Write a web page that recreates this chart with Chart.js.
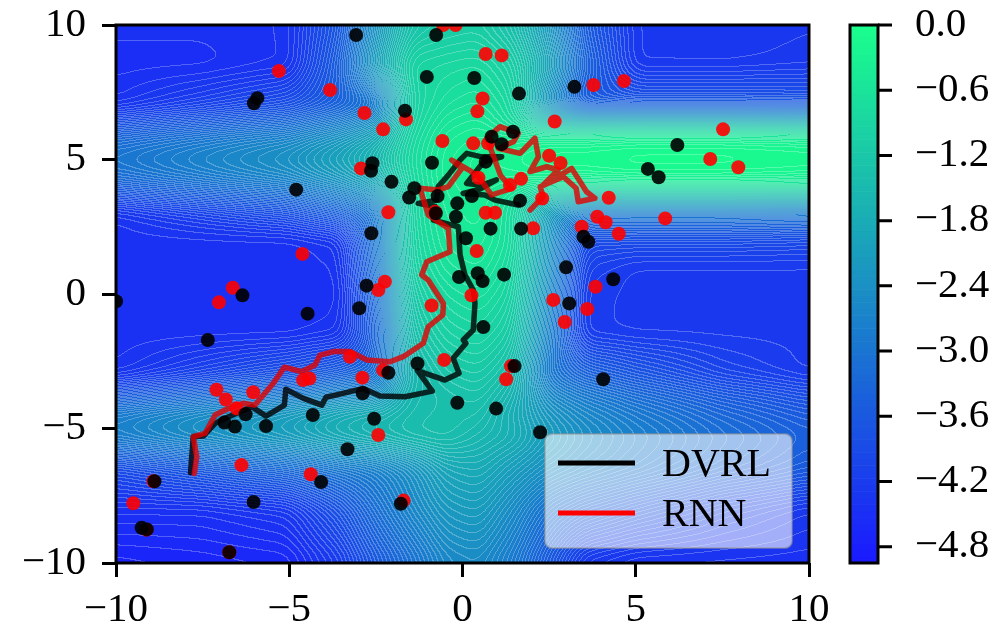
<!DOCTYPE html>
<html><head><meta charset="utf-8">
<script src="https://cdn.jsdelivr.net/npm/chart.js@4/dist/chart.umd.min.js"></script>
<style>html,body{margin:0;padding:0;background:#fff}#wrap{width:998px;height:628px}</style>
</head><body><div id="wrap"><canvas id="c" width="998" height="628"></canvas></div>
<script>
// ---- ticks ----
const X_TICKS = [-10, -5, 0, 5, 10];
const Y_TICKS = [-10, -5, 0, 5, 10];
const CB_TICKS = [0, -0.6, -1.2, -1.8, -2.4, -3.0, -3.6, -4.2, -4.8];
const CB_MIN = -4.95, CB_MAX = 0;
const LEVEL_STEP = 0.06;

// ---- background field (values on a coarse grid) ----
const GRID_X = [-10, -7.5, -5, -3.5, -2.5, -1.5, -0.5, 0.5, 1.5, 2.5, 3.5, 5, 7.5, 10];
const GRID_Y = [10, 8.5, 7, 6.3, 5.7, 5, 4.3, 3.6, 3, 2, 1, 0, -1.5, -3, -3.8, -4.5, -5.3, -6.5, -8, -10];
const FIELD = [
  [-4.45,-4.45,-4.4,-3.6,-2.3,-1.3,-1.15,-1.1,-1.4,-2.2,-3.5,-4.3,-4.35,-4.3],
  [-4.5,-4.5,-4.4,-3.4,-2.0,-0.9,-0.85,-0.8,-1.05,-1.9,-3.3,-4.3,-4.3,-4.25],
  [-4.4,-4.1,-3.8,-3.4,-3.0,-1.0,-0.7,-0.6,-0.85,-2.4,-3.6,-3.6,-3.6,-3.65],
  [-3.7,-3.4,-3.1,-2.7,-2.3,-0.95,-0.55,-0.45,-0.8,-1.3,-1.3,-1.25,-1.25,-1.3],
  [-3.15,-2.85,-2.55,-2.15,-1.75,-0.85,-0.45,-0.35,-0.3,-0.2,-0.2,-0.15,-0.15,-0.2],
  [-2.9,-2.6,-2.3,-1.9,-1.5,-0.8,-0.4,-0.3,-0.2,-0.1,-0.1,-0.05,-0.05,-0.1],
  [-3.15,-2.85,-2.55,-2.15,-1.75,-0.85,-0.4,-0.3,-0.3,-0.2,-0.2,-0.15,-0.15,-0.2],
  [-3.8,-3.5,-3.2,-2.8,-2.4,-0.9,-0.45,-0.35,-0.7,-1.4,-1.5,-1.45,-1.45,-1.5],
  [-4.4,-4.1,-3.8,-3.4,-3.0,-0.9,-0.5,-0.4,-0.75,-2.2,-2.9,-2.9,-2.9,-2.95],
  [-4.45,-4.45,-4.45,-4.33,-2.95,-0.95,-0.55,-0.45,-0.75,-2.25,-3.9,-3.9,-3.9,-3.95],
  [-4.45,-4.45,-4.45,-4.4,-3.05,-1.0,-0.65,-0.55,-0.85,-2.35,-4.1,-4.25,-4.25,-4.25],
  [-4.45,-4.45,-4.45,-4.45,-3.2,-1.15,-0.8,-0.7,-0.95,-2.5,-4.2,-4.25,-4.25,-4.25],
  [-4.45,-4.45,-4.45,-4.35,-3.4,-1.35,-1.0,-0.9,-1.15,-2.7,-4.2,-4.25,-4.25,-4.25],
  [-4.4,-4.05,-3.7,-3.4,-3.2,-1.6,-1.25,-1.15,-1.45,-2.95,-3.34,-3.64,-4.04,-4.25],
  [-3.5,-3.15,-2.8,-2.5,-2.35,-1.5,-1.4,-1.3,-1.65,-2.53,-2.83,-3.13,-3.53,-3.83],
  [-2.75,-2.4,-2.05,-1.75,-1.6,-1.45,-1.38,-1.4,-1.8,-2.25,-2.55,-2.85,-3.25,-3.55],
  [-2.7,-2.35,-2.0,-1.7,-1.55,-1.4,-1.35,-1.55,-1.7,-2.1,-2.4,-2.7,-3.1,-3.4],
  [-3.9,-3.55,-3.2,-2.9,-2.75,-2.4,-1.9,-1.8,-2.1,-2.4,-2.6,-2.85,-3.25,-3.55],
  [-4.45,-4.45,-4.3,-3.7,-3.1,-2.6,-2.2,-2.1,-2.5,-3.04,-3.34,-3.64,-4.04,-4.3],
  [-4.75,-4.7,-4.65,-4.2,-3.6,-3.1,-2.6,-2.5,-2.9,-3.6,-4.3,-4.45,-4.45,-4.45]
];
const SMOOTH_PX = 9; // rendering smoothing radius for the coarse field

// ---- trajectories ----
const DVRL_PATH = [[-7.85,-6.64],[-7.77,-5.30],[-7.48,-5.28],[-7.14,-4.81],[-6.85,-4.62],[-6.42,-4.38],[-6.08,-4.19],[-5.67,-4.54],[-5.14,-4.13],[-5.10,-3.54],[-4.59,-3.88],[-4.06,-4.13],[-3.94,-3.84],[-3.54,-3.72],[-2.86,-3.51],[-2.38,-3.79],[-1.66,-3.82],[-0.87,-3.61],[-1.30,-2.85],[-0.51,-3.20],[-0.10,-2.95],[-0.27,-2.39],[0.10,-1.83],[0.02,-1.71],[0.31,-1.34],[0.36,-0.35],[0.31,0.15],[0.07,0.71],[-0.07,1.45],[-0.12,2.50],[-0.51,2.63],[-0.84,2.75],[-0.79,3.25],[-1.28,3.37],[-0.75,3.49],[-0.70,3.99],[-0.41,4.42],[-0.07,4.98],[0.12,5.23],[0.55,5.10],[1.13,5.10],[0.60,4.90],[0.12,4.11],[0.55,4.05],[0.98,4.24],[0.50,3.90],[0.02,3.74],[0.65,3.68],[0.94,3.49],[1.61,3.31]];
const RNN_PATH = [[-7.74,-6.67],[-7.67,-6.05],[-7.77,-5.30],[-7.43,-5.18],[-7.14,-4.50],[-6.85,-4.31],[-6.33,-4.06],[-5.99,-4.13],[-5.46,-3.32],[-5.14,-2.72],[-4.64,-2.89],[-4.26,-2.64],[-4.11,-2.27],[-3.73,-2.14],[-3.25,-2.14],[-2.77,-2.45],[-2.09,-2.52],[-1.71,-2.33],[-1.13,-1.83],[-0.99,-1.22],[-0.57,-0.78],[-0.55,-0.35],[-0.99,0.52],[-1.18,0.71],[-1.03,1.20],[-0.36,1.57],[-0.41,2.44],[-0.99,2.94],[-1.23,3.93],[-0.70,3.87],[-0.41,3.99],[-0.02,4.67],[-0.31,4.98],[0.20,4.60],[0.46,4.36],[0.84,3.68],[1.42,3.93],[1.10,4.40],[0.70,5.79],[1.08,6.22],[1.61,5.97],[1.47,5.66],[1.03,5.42],[1.66,5.23],[2.09,5.79],[2.19,5.10],[1.95,4.55],[2.43,4.73],[2.76,4.61],[2.33,4.05],[3.15,4.67],[3.58,3.80],[3.82,3.56],[3.34,3.43],[3.28,3.93],[2.91,4.36],[2.24,3.99],[2.33,3.62],[1.95,3.12]];

// ---- scattered samples ----
const DVRL_POINTS = [[-5.92,7.28],[-6.02,7.09],[-4.80,3.88],[-6.35,-0.05],[-10.0,-0.27],[-4.47,-0.73],[-7.35,-1.71],[-6.26,-4.47],[-6.87,-4.78],[-6.57,-4.93],[-5.67,-4.91],[-4.32,-4.50],[-8.89,-6.96],[-9.26,-8.69],[-9.11,-8.75],[-6.03,-7.73],[-4.08,-6.99],[-6.73,-9.60],[-3.07,9.63],[-0.76,9.63],[-1.03,8.07],[0.34,8.03],[1.63,7.45],[3.23,7.70],[-1.66,6.81],[0.84,5.85],[1.46,6.03],[1.13,5.57],[-2.60,4.86],[-2.64,4.58],[-0.88,4.88],[0.67,4.92],[-2.05,4.17],[-1.39,3.93],[-1.54,3.59],[-0.72,3.64],[0.27,3.64],[1.66,3.47],[-0.15,3.37],[-0.77,3.00],[-0.19,2.87],[0.81,2.43],[1.69,2.43],[-2.63,2.26],[0.10,2.07],[2.99,0.99],[1.20,0.72],[-0.10,0.63],[0.44,0.77],[0.58,0.48],[-2.77,0.31],[3.08,-0.35],[6.20,5.54],[5.35,4.65],[5.66,4.34],[3.49,2.13],[3.63,1.94],[4.35,0.55],[0.60,-1.23],[1.50,-2.68],[4.06,-3.17],[-0.15,-4.04],[0.97,-4.26],[2.24,-5.14],[-2.98,-0.53],[-1.30,-2.58],[-2.14,-2.93],[-2.88,-3.69],[-2.55,-4.64],[-3.32,-5.77],[-1.78,-7.80]];
const RNN_POINTS = [[-5.30,8.29],[-3.82,7.58],[-4.62,1.49],[-6.63,0.23],[-7.03,-0.31],[-7.10,-3.56],[-6.83,-3.92],[-6.04,-3.65],[-6.52,-4.25],[-4.60,-3.20],[-4.42,-3.14],[-6.38,-6.36],[-8.92,-6.96],[-9.50,-7.78],[-9.12,-8.76],[-4.38,-6.70],[-6.73,-9.60],[-0.56,10.0],[-0.20,10.0],[0.67,8.92],[1.13,8.87],[0.58,7.27],[0.43,6.79],[-2.83,6.73],[-1.63,6.49],[-2.29,6.12],[2.66,6.41],[-0.58,5.69],[0.31,5.60],[0.74,5.60],[-2.93,4.67],[2.50,5.14],[2.83,4.87],[0.46,4.32],[1.69,4.28],[1.37,4.05],[2.30,3.55],[-2.14,3.04],[-0.79,3.06],[0.67,3.02],[0.94,3.02],[2.04,2.44],[0.41,1.60],[-2.24,0.46],[-2.43,0.15],[0.26,-0.05],[2.62,-0.22],[2.95,-1.04],[3.78,7.77],[4.66,7.92],[7.52,6.12],[7.15,5.02],[7.96,4.71],[4.22,3.58],[3.89,2.87],[4.13,2.67],[5.85,2.81],[4.51,2.24],[3.44,2.50],[3.84,0.27],[3.60,-0.56],[-0.53,-2.45],[1.40,-2.68],[1.26,-3.17],[-0.89,-0.43],[-3.25,-2.33],[-2.29,-2.83],[-2.89,-3.11],[-2.43,-5.24],[-1.70,-7.68]];

// ---- helpers ----
const FONT = 'Liberation Serif';
const minus = v => (v < 0 ? '\u2212' : '') + Math.abs(v);
const toXY = a => a.map(p => ({x: p[0], y: p[1]}));
function winter(v) { // matplotlib 'winter' drawn with alpha 0.9 on white
  let t = (v - CB_MIN) / (CB_MAX - CB_MIN); t = Math.max(0, Math.min(1, t));
  return [25.5, 25.5 + 229.5 * t, 25.5 + 229.5 * (1 - 0.5 * t)];
}
function levelOf(v) { return Math.floor((v - CB_MIN) / LEVEL_STEP); }
function levelColor(l) { return winter(CB_MIN + (l + 0.5) * LEVEL_STEP); }
function findIdx(arr, v, desc) {
  const n = arr.length;
  for (let k = 0; k < n - 1; k++) {
    const a = arr[k], b = arr[k + 1];
    if (desc ? (v <= a && v >= b) : (v >= a && v <= b)) return k;
  }
  if (desc) return v > arr[0] ? 0 : n - 2;
  return v < arr[0] ? 0 : n - 2;
}
function noPad(s) { s.paddingTop = 0; s.paddingBottom = 0; s.paddingLeft = 0; s.paddingRight = 0; }
function boxBlur(src, W, H, r) {
  const tmp = new Float64Array(W * H), out = new Float64Array(W * H), n = 2 * r + 1;
  for (let j = 0; j < H; j++) {
    let s = 0; const row = j * W;
    for (let k = -r; k <= r; k++) s += src[row + Math.min(W - 1, Math.max(0, k))];
    for (let i = 0; i < W; i++) {
      tmp[row + i] = s / n;
      s += src[row + Math.min(W - 1, i + r + 1)] - src[row + Math.max(0, i - r)];
    }
  }
  for (let i = 0; i < W; i++) {
    let s = 0;
    for (let k = -r; k <= r; k++) s += tmp[Math.min(H - 1, Math.max(0, k)) * W + i];
    for (let j = 0; j < H; j++) {
      out[j * W + i] = s / n;
      s += tmp[Math.min(H - 1, j + r + 1) * W + i] - tmp[Math.max(0, j - r) * W + i];
    }
  }
  return out;
}

const fieldPlugin = {
  id: 'field',
  beforeDatasetsDraw(chart) {
    const {ctx, chartArea: a, scales: {x, y}} = chart;
    const W = Math.round(a.right - a.left), H = Math.round(a.bottom - a.top);
    const xi = new Int32Array(W), xf = new Float64Array(W);
    for (let i = 0; i < W; i++) {
      const v = x.getValueForPixel(a.left + i + 0.5);
      const k = findIdx(GRID_X, v, false);
      xi[i] = k; xf[i] = Math.max(0, Math.min(1, (v - GRID_X[k]) / (GRID_X[k + 1] - GRID_X[k])));
    }
    let val = new Float64Array(W * H);
    for (let j = 0; j < H; j++) {
      const v = y.getValueForPixel(a.top + j + 0.5);
      const k = findIdx(GRID_Y, v, true);
      const f = Math.max(0, Math.min(1, (v - GRID_Y[k]) / (GRID_Y[k + 1] - GRID_Y[k])));
      const r0 = FIELD[k], r1 = FIELD[k + 1];
      for (let i = 0; i < W; i++) {
        const c = xi[i], g = xf[i];
        const top = r0[c] + (r0[c + 1] - r0[c]) * g;
        const bot = r1[c] + (r1[c + 1] - r1[c]) * g;
        val[j * W + i] = top + (bot - top) * f;
      }
    }
    val = boxBlur(boxBlur(val, W, H, SMOOTH_PX), W, H, SMOOTH_PX);
    const lev = new Int32Array(W * H);
    for (let p = 0; p < W * H; p++) lev[p] = levelOf(val[p]);
    const off = document.createElement('canvas'); off.width = W; off.height = H;
    const octx = off.getContext('2d');
    const img = octx.createImageData(W, H); const d = img.data;
    for (let j = 0; j < H; j++) {
      for (let i = 0; i < W; i++) {
        const p = j * W + i, l = lev[p];
        let [r, g, b] = levelColor(l);
        const edge = (i < W - 1 && lev[p + 1] !== l) || (j < H - 1 && lev[p + W] !== l);
        if (edge) { const al = 0.25; r += (255 - r) * al; g += (255 - g) * al; b += (255 - b) * al; }
        d[p * 4] = r; d[p * 4 + 1] = g; d[p * 4 + 2] = b; d[p * 4 + 3] = 255;
      }
    }
    octx.putImageData(img, 0, 0);
    ctx.drawImage(off, a.left, a.top);
  }
};

const overlayPlugin = {
  id: 'overlay',
  afterDraw(chart) {
    const {ctx, chartArea: a} = chart;
    const cb = chart.scales.cb;
    ctx.save();
    ctx.strokeStyle = '#000'; ctx.lineWidth = 3;
    ctx.strokeRect(a.left, a.top, a.right - a.left, a.bottom - a.top);
    const x0 = a.right + 41, x1 = a.right + 69;
    const nLev = Math.ceil((CB_MAX - CB_MIN) / LEVEL_STEP);
    for (let l = 0; l < nLev; l++) {
      const v0 = CB_MIN + l * LEVEL_STEP, v1 = Math.min(CB_MAX, v0 + LEVEL_STEP);
      const p0 = cb.getPixelForValue(v0), p1 = cb.getPixelForValue(v1);
      const [r, g, b] = levelColor(l);
      ctx.fillStyle = `rgb(${r},${g},${b})`;
      ctx.fillRect(x0, p1, x1 - x0, p0 - p1 + 0.6);
    }
    ctx.strokeRect(x0, cb.top, x1 - x0, cb.bottom - cb.top);
    ctx.beginPath();
    for (const t of CB_TICKS) { const p = cb.getPixelForValue(t); ctx.moveTo(x1, p); ctx.lineTo(x1 + 14, p); }
    ctx.stroke();
    const bx = a.right - 264, by = a.bottom - 129, bw = 247, bh = 114;
    ctx.beginPath();
    ctx.roundRect(bx, by, bw, bh, 7);
    ctx.fillStyle = 'rgba(255,255,255,0.6)'; ctx.fill();
    ctx.lineWidth = 2; ctx.strokeStyle = 'rgba(150,150,150,0.5)'; ctx.stroke();
    const items = [chart.data.datasets[3], chart.data.datasets[2]];
    items.forEach((ds, k) => {
      const yy = by + 29 + k * 50;
      ctx.beginPath(); ctx.moveTo(bx + 13, yy); ctx.lineTo(bx + 90, yy);
      ctx.lineWidth = 5; ctx.strokeStyle = ds.legendColor; ctx.lineCap = 'butt'; ctx.stroke();
      ctx.fillStyle = '#000'; ctx.font = `40px "${FONT}"`; ctx.textBaseline = 'middle'; ctx.textAlign = 'left';
      ctx.fillText(ds.label, bx + 117, yy + 2);
    });
    ctx.restore();
  }
};

const tickFont = {family: FONT, size: 41};
new Chart(document.getElementById('c'), {
  type: 'scatter',
  data: {
    datasets: [
      {label: 'DVRL samples', data: toXY(DVRL_POINTS), backgroundColor: 'rgba(0,0,0,0.9)', pointRadius: 7, pointBorderWidth: 0, borderWidth: 0, order: 0, clip: 0},
      {label: 'RNN samples', data: toXY(RNN_POINTS), backgroundColor: 'rgba(255,0,0,0.9)', pointRadius: 7, pointBorderWidth: 0, borderWidth: 0, order: 1, clip: 0},
      {type: 'line', label: 'RNN', legendColor: '#ff0000', data: toXY(RNN_PATH), borderColor: 'rgba(225,0,0,0.8)', borderWidth: 5.5, pointRadius: 0, fill: false, tension: 0, order: 2, clip: 0, borderJoinStyle: 'round', borderCapStyle: 'round'},
      {type: 'line', label: 'DVRL', legendColor: '#000000', data: toXY(DVRL_PATH), borderColor: 'rgba(0,0,0,0.8)', borderWidth: 5.5, pointRadius: 0, fill: false, tension: 0, order: 3, clip: 0, borderJoinStyle: 'round', borderCapStyle: 'round'}
    ]
  },
  options: {
    responsive: false, animation: false, devicePixelRatio: 1,
    layout: {padding: {top: 25, left: 0, right: 0, bottom: 0}},
    plugins: {legend: {display: false}, tooltip: {enabled: false}},
    scales: {
      x: {
        type: 'linear', min: -10, max: 10,
        afterBuildTicks: s => { s.ticks = X_TICKS.map(v => ({value: v})); },
        afterFit: s => { s.height = 65; noPad(s); },
        grid: {drawOnChartArea: false, drawTicks: true, tickLength: 14, lineWidth: 3, color: '#000'},
        border: {display: false},
        ticks: {font: tickFont, color: '#000', padding: 9, maxRotation: 0, callback: v => minus(v)}
      },
      y: {
        type: 'linear', min: -10, max: 10,
        afterBuildTicks: s => { s.ticks = Y_TICKS.map(v => ({value: v})); },
        afterFit: s => { s.width = 116; noPad(s); },
        grid: {drawOnChartArea: false, drawTicks: true, tickLength: 14, lineWidth: 3, color: '#000'},
        border: {display: false},
        ticks: {font: tickFont, color: '#000', padding: 16, callback: v => minus(v)}
      },
      cb: {
        type: 'linear', position: 'right', min: CB_MIN, max: CB_MAX,
        afterBuildTicks: s => { s.ticks = CB_TICKS.map(v => ({value: v})); },
        afterFit: s => { s.width = 189; noPad(s); },
        grid: {display: false, drawTicks: true, tickLength: 100, drawOnChartArea: false},
        border: {display: false},
        ticks: {font: tickFont, color: '#000', padding: 6, callback: v => (v < 0 ? '\u2212' : '') + Math.abs(v).toFixed(1)}
      }
    }
  },
  plugins: [fieldPlugin, overlayPlugin]
});
</script></body></html>
